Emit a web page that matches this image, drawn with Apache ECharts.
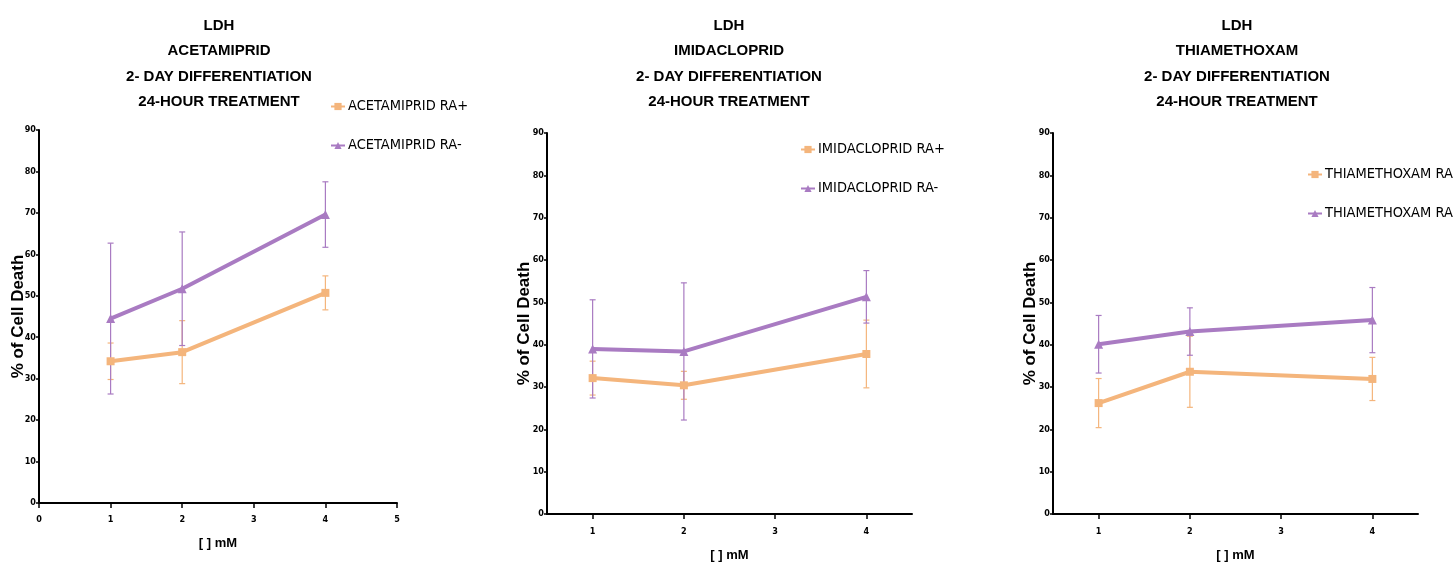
<!DOCTYPE html>
<html>
<head>
<meta charset="utf-8">
<script src="https://cdn.jsdelivr.net/npm/echarts@6/dist/echarts.min.js"></script>
<style>html,body{margin:0;padding:0;background:#fff;}#c{width:1453px;height:564px;}</style>
</head>
<body>
<div id="c"></div>
<script>
// ---- data ----
const xValues = [1, 2, 4];
const yTicks = [0, 10, 20, 30, 40, 50, 60, 70, 80, 90];
const compounds = ['ACETAMIPRID', 'IMIDACLOPRID', 'THIAMETHOXAM'];
const titleLines = ['LDH', '2- DAY DIFFERENTIATION', '24-HOUR TREATMENT'];
// means (% cell death)
const acetRAplus = [34.2, 36.4, 50.7];
const acetRAminus = [44.5, 51.7, 69.6];
const imidRAplus = [32.1, 30.4, 37.8];
const imidRAminus = [39.0, 38.4, 51.3];
const thiaRAplus = [26.2, 33.6, 31.9];
const thiaRAminus = [40.1, 43.1, 45.8];
// error (SD)
const acetRAplusErr = [4.4, 7.6, 4.1];
const acetRAminusErr = [18.2, 13.7, 7.9];
const imidRAplusErr = [4.0, 3.3, 8.0];
const imidRAminusErr = [11.6, 16.2, 6.2];
const thiaRAplusErr = [5.8, 8.4, 5.1];
const thiaRAminusErr = [6.8, 5.6, 7.7];

const plusData = [acetRAplus, imidRAplus, thiaRAplus];
const minusData = [acetRAminus, imidRAminus, thiaRAminus];
const plusErr = [acetRAplusErr, imidRAplusErr, thiaRAplusErr];
const minusErr = [acetRAminusErr, imidRAminusErr, thiaRAminusErr];

const ORANGE = '#F4B57C';
const PURPLE = '#A97BC2';
const NARROW = "'Liberation Sans Narrow','Arial Narrow','DejaVu Sans Condensed',sans-serif";
const WIDE = "'Liberation Sans',Arial,sans-serif";

const grids = [
  {left: 39, width: 358, top: 130, height: 373, outerBoundsMode: 'none', containLabel: false},
  {left: 547, width: 365, top: 133, height: 381, outerBoundsMode: 'none', containLabel: false},
  {left: 1053, width: 365, top: 133, height: 381, outerBoundsMode: 'none', containLabel: false}
];
const titleCenters = [219, 729, 1237];
const legendPos = [{left: 325, top: 94}, {left: 795, top: 137}, {left: 1302, top: 162}];
const yNameGaps = [12, 14, 14];

function errRender(color) {
  return function (params, api) {
    const x = api.value(0);
    const lo = api.coord([x, api.value(1)]);
    const hi = api.coord([x, api.value(2)]);
    const cw = 3;
    const st = {stroke: color, lineWidth: 1.2};
    return {
      type: 'group',
      children: [
        {type: 'line', shape: {x1: lo[0], y1: lo[1], x2: hi[0], y2: hi[1]}, style: st},
        {type: 'line', shape: {x1: lo[0] - cw, y1: lo[1], x2: lo[0] + cw, y2: lo[1]}, style: st},
        {type: 'line', shape: {x1: hi[0] - cw, y1: hi[1], x2: hi[0] + cw, y2: hi[1]}, style: st}
      ]
    };
  };
}

const option = {
  backgroundColor: '#fff',
  animation: false,
  title: compounds.map((c, i) => ({
    text: [titleLines[0], c, titleLines[1], titleLines[2]].join('\n'),
    left: titleCenters[i],
    top: 13,
    padding: 0,
    textAlign: 'center',
    textStyle: {fontFamily: WIDE, fontWeight: 'bold', fontSize: 15, lineHeight: 25.4, color: '#000'}
  })),
  legend: compounds.map((c, i) => ({
    orient: 'vertical',
    left: legendPos[i].left,
    top: legendPos[i].top,
    itemGap: 24,
    itemWidth: 14,
    itemHeight: 9,
    data: [c + ' RA+', c + ' RA-'],
    textStyle: {fontFamily: NARROW, fontSize: 14.5, color: '#000', padding: [0, 0, 0, -2]}
  })),
  grid: grids,
  xAxis: grids.map((g, i) => {
    const first = i === 0;
    const ax = {
      type: 'value',
      gridIndex: i,
      min: first ? 0 : 0.5,
      max: first ? 5 : 4.5,
      interval: first ? 1 : 0.5,
      name: '[ ] mM',
      nameLocation: 'middle',
      nameGap: first ? 34 : 35,
      nameMoveOverlap: false,
      nameTextStyle: {fontFamily: WIDE, fontWeight: 'bold', fontSize: 13, color: '#000'},
      splitLine: {show: false},
      axisLine: {onZero: false, lineStyle: {color: '#000', width: 2}},
      axisTick: {show: true, length: 5, lineStyle: {color: '#000', width: 1.5}},
      axisLabel: {fontFamily: NARROW, fontWeight: 'bold', fontSize: 9, color: '#000', margin: first ? 12 : 13}
    };
    if (!first) {
      ax.axisTick.customValues = [1, 2, 3, 4];
      ax.axisLabel.customValues = [1, 2, 3, 4];
    }
    return ax;
  }),
  yAxis: grids.map((g, i) => ({
    type: 'value',
    gridIndex: i,
    min: 0, max: 90, interval: 10,
    name: '% of Cell Death',
    nameLocation: 'middle',
    nameGap: yNameGaps[i],
    nameMoveOverlap: false,
    nameTextStyle: {fontFamily: WIDE, fontWeight: 'bold', fontSize: 17, color: '#000'},
    splitLine: {show: false},
    axisLine: {show: true, lineStyle: {color: '#000', width: 2}},
    axisTick: {show: true, length: 3, lineStyle: {color: '#000', width: 1.5}},
    axisLabel: {fontFamily: NARROW, fontWeight: 'bold', fontSize: 9, color: '#000', margin: 3}
  })),
  series: []
};

compounds.forEach((c, i) => {
  option.series.push({
    type: 'custom', xAxisIndex: i, yAxisIndex: i, z: 1,
    renderItem: errRender(ORANGE), encode: {x: 0, y: [1, 2]},
    data: xValues.map((x, k) => [x, plusData[i][k] - plusErr[i][k], plusData[i][k] + plusErr[i][k]]),
    silent: true
  });
  option.series.push({
    type: 'custom', xAxisIndex: i, yAxisIndex: i, z: 1,
    renderItem: errRender(PURPLE), encode: {x: 0, y: [1, 2]},
    data: xValues.map((x, k) => [x, minusData[i][k] - minusErr[i][k], minusData[i][k] + minusErr[i][k]]),
    silent: true
  });
  option.series.push({
    name: c + ' RA+', type: 'line', xAxisIndex: i, yAxisIndex: i, z: 3,
    data: xValues.map((x, k) => [x, plusData[i][k]]),
    symbol: 'rect', symbolSize: 8, showSymbol: true,
    lineStyle: {color: ORANGE, width: 4}, itemStyle: {color: ORANGE}
  });
  option.series.push({
    name: c + ' RA-', type: 'line', xAxisIndex: i, yAxisIndex: i, z: 3,
    data: xValues.map((x, k) => [x, minusData[i][k]]),
    symbol: 'triangle', symbolSize: 9, showSymbol: true,
    lineStyle: {color: PURPLE, width: 4}, itemStyle: {color: PURPLE}
  });
});

const chart = echarts.init(document.getElementById('c'), null, {renderer: 'canvas'});
chart.setOption(option);
</script>
</body>
</html>
